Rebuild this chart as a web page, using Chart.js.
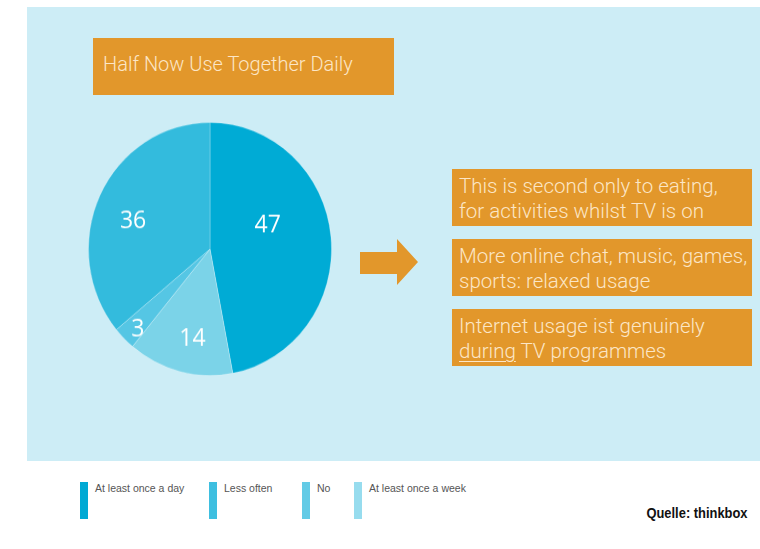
<!DOCTYPE html>
<html>
<head>
<meta charset="utf-8">
<script src="https://cdn.jsdelivr.net/npm/chart.js@4"></script>
<style>
  html, body { margin: 0; padding: 0; background: #fff; }
  body { width: 760px; height: 549px; position: relative; overflow: hidden; font-family: "Liberation Sans", Arial, sans-serif; }
  .panel { position: absolute; left: 27px; top: 7px; width: 733px; height: 454px; background: #CDEDF6; }
  .box { position: absolute; background: #E2972B; color: #FCE6C6; font-family: Roboto, "Liberation Sans", sans-serif; font-weight: 300; }
  #title { left: 93px; top: 38px; width: 301px; height: 57px; font-size: 20px; line-height: 53px; padding-left: 10px; box-sizing: border-box; }
  .note { left: 452px; width: 300px; height: 57px; font-size: 20.5px; line-height: 25px; padding: 5px 0 0 7px; box-sizing: border-box; white-space: nowrap; }
  .note u { text-decoration-thickness: 1px; text-underline-offset: 3px; }
  #arrow { position: absolute; left: 360px; top: 239px; width: 58px; height: 46px; background: #E2972B;
    clip-path: polygon(0 28.3%, 63.8% 28.3%, 63.8% 0, 100% 50%, 63.8% 100%, 63.8% 76.1%, 0 76.1%); }
  #pie { position: absolute; left: 88px; top: 122px; width: 244px !important; height: 254px !important; }
  #legend { position: absolute; left: 0; top: 482px; }
  .item { position: absolute; top: 0; height: 38px; font-size: 10.5px; color: #555; white-space: nowrap; }
  .item span.bar { position: absolute; left: 0; top: 0; width: 8px; height: 37px; }
  .item span.txt { position: absolute; left: 15px; top: 0; }
  #source { position: absolute; right: 12px; top: 504px; font-family: "Liberation Sans", sans-serif; font-weight: bold; font-size: 15px; color: #111;
    transform: scaleX(0.86); transform-origin: right center; }
</style>
</head>
<body>
<div class="panel"></div>
<div class="box" id="title"></div>
<canvas id="pie" width="244" height="244"></canvas>
<div id="arrow"></div>
<div id="notes"></div>
<div id="legend"></div>
<div id="source"></div>

<script>
// slice order as drawn, clockwise from 12 o'clock
const categories = ["At least once a day", "At least once a week", "No", "Less often"];
const values = [47, 14, 3, 36];
const sliceColors = ["#00ABD5", "#7BD3E8", "#55C6E4", "#33BBDD"];

// legend order as printed under the chart
const legendOrder = ["At least once a day", "Less often", "No", "At least once a week"];
const legendColors = ["#00A9D4", "#3EBFE0", "#63CBE6", "#97DCEE"];

const titleText = "Half Now Use Together Daily";
const notes = [
  "This is second only to eating,<br>for activities whilst TV is on",
  "More online chat, music, games,<br>sports: relaxed usage",
  "Internet usage ist genuinely<br><u>during</u> TV programmes"
];
const sourceText = "Quelle: thinkbox";

document.getElementById("title").textContent = titleText;
document.getElementById("source").textContent = sourceText;

const noteTops = [169, 239, 309];
const notesEl = document.getElementById("notes");
notes.forEach((html, i) => {
  const d = document.createElement("div");
  d.className = "box note";
  d.style.top = noteTops[i] + "px";
  d.innerHTML = html;
  notesEl.appendChild(d);
});

const legendLefts = [80, 209, 302, 354];
const legendEl = document.getElementById("legend");
legendOrder.forEach((name, i) => {
  const d = document.createElement("div");
  d.className = "item";
  d.style.left = legendLefts[i] + "px";
  d.innerHTML = '<span class="bar" style="background:' + legendColors[i] + '"></span><span class="txt">' + name + '</span>';
  legendEl.appendChild(d);
});

// value label placement: fraction of radius and turn (degrees) off the slice middle
const labelRadius = [0.51, 0.73, 0.87, 0.67];
const labelTurn = [-16, -3, -2, -6];

const sliceLabels = {
  id: "sliceLabels",
  afterDatasetsDraw(chart) {
    const ctx = chart.ctx;
    const meta = chart.getDatasetMeta(0);
    ctx.save();
    ctx.fillStyle = "#fff";
    ctx.font = "23px 'Open Sans', 'Noto Sans', sans-serif";
    ctx.textAlign = "center";
    ctx.textBaseline = "middle";
    meta.data.forEach((arc, i) => {
      const p = arc.getProps(["x", "y", "startAngle", "endAngle", "outerRadius"], true);
      const mid = (p.startAngle + p.endAngle) / 2 + labelTurn[i] * Math.PI / 180;
      const r = p.outerRadius * labelRadius[i];
      ctx.fillText(String(values[i]), p.x + Math.cos(mid) * r, p.y + Math.sin(mid) * r);
    });
    ctx.restore();
  }
};

new Chart(document.getElementById("pie"), {
  type: "pie",
  data: {
    labels: categories,
    datasets: [{
      data: values,
      backgroundColor: sliceColors,
      borderColor: "rgba(255,255,255,0.25)",
      borderWidth: 1
    }]
  },
  options: {
    responsive: false,
    animation: false,
    devicePixelRatio: 1,
    layout: { padding: 0 },
    plugins: {
      legend: { display: false },
      tooltip: { enabled: false }
    }
  },
  plugins: [sliceLabels]
});
</script>
</body>
</html>
